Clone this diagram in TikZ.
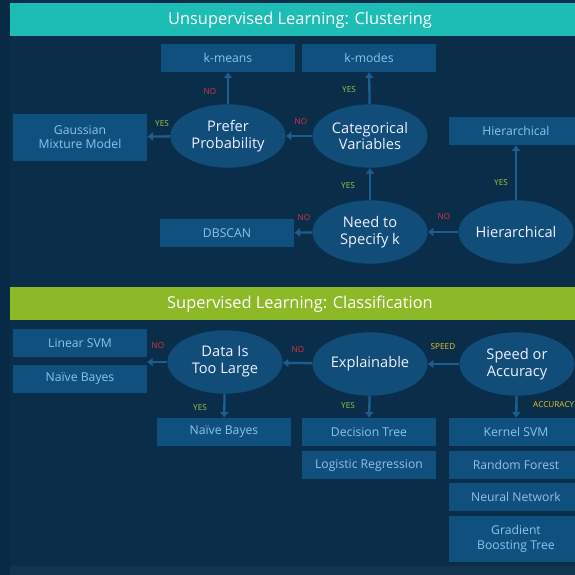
\documentclass[tikz,border=0pt]{standalone}
\usepackage{fontspec}
\setmainfont{Open Sans}
\usepackage{tikz}
\usetikzlibrary{arrows.meta,positioning,shapes.geometric}

\definecolor{bgnavy}{HTML}{0A2E4A}
\definecolor{boxblue}{HTML}{10507E}
\definecolor{ellblue}{HTML}{114D79}
\definecolor{boxtext}{HTML}{8EC4E8}
\definecolor{arrowblue}{HTML}{1B5E92}
\definecolor{tealbar}{HTML}{1DBDB5}
\definecolor{greenbar}{HTML}{8DB928}
\definecolor{noRed}{HTML}{D9363B}
\definecolor{yesGreen}{HTML}{9CCB3C}
\definecolor{pickYellow}{HTML}{E6C12E}

\tikzset{
  resbox/.style={fill=boxblue,minimum width=4.02cm,minimum height=0.84cm,align=center,font=\fontsize{10.4}{12.4}\selectfont,text=boxtext,inner sep=1pt},
  askell/.style={ellipse,fill=ellblue,minimum width=3.45cm,minimum height=1.9cm,align=center,font=\fontsize{12.5}{14.5}\selectfont,text=white!94!blue,inner sep=0pt},
  titlebar/.style={minimum width=16.95cm,minimum height=0.99cm,inner sep=0pt},
  headtext/.style={font=\fontsize{14}{16}\selectfont,text=white},
  ansl/.style={font=\fontsize{7}{8}\selectfont,inner sep=0pt},
  flow/.style={draw=arrowblue,line width=2pt,-{Latex[length=1.7mm,width=2.8mm]}}
}

\begin{document}
\begin{tikzpicture}[x=0.03cm,y=-0.03cm]
\useasboundingbox (0,0) rectangle (575,575);
\clip (0,0) rectangle (575,575);
\fill[bgnavy] (0,0) rectangle (575,575);
\fill[bgnavy!92!black] (0,0) rectangle (10,575);
\fill[bgnavy!97!white] (10,566) rectangle (575,575);

% unsupervised part
\node[titlebar,fill=tealbar] (u_title) at (292.5,19) {};
\node[headtext] (u_head) at (300,20) {Unsupervised Learning: Clustering};

\node[resbox] (u_kmeans) at (228,58) {k-means};
\node[resbox] (u_kmodes) at (369,58) {k-modes};
\node[resbox,minimum height=1.41cm] (u_gmm) at (80,137) {Gaussian\\Mixture Model};
\node[askell] (u_prob) at (228,136) {Prefer\\Probability};
\node[askell] (u_cat) at (370,136) {Categorical\\Variables};
\node[resbox] (u_hierbox) at (516,131) {Hierarchical};
\node[resbox] (u_dbscan) at (227,233) {DBSCAN};
\node[askell] (u_needk) at (370,232) {Need to\\Specify k};
\node[askell] (u_hier) at (516,232) {Hierarchical};

\draw[flow] (u_prob) -- (u_kmeans);
\draw[flow] (u_cat) -- (u_kmodes);
\draw[flow] (u_prob) -- (u_gmm);
\draw[flow] (u_cat) -- (u_prob);
\draw[flow] (u_needk) -- (u_cat);
\draw[flow] (u_hier) -- (u_hierbox);
\draw[flow] (u_hier) -- (u_needk);
\draw[flow] (u_needk) -- (u_dbscan);

\node[ansl,text=noRed] (u_l1) at (210,92) {NO};
\node[ansl,text=yesGreen] (u_l2) at (349,90) {YES};
\node[ansl,text=yesGreen] (u_l3) at (162,124) {YES};
\node[ansl,text=noRed] (u_l4) at (301,122) {NO};
\node[ansl,text=yesGreen] (u_l5) at (348,186) {YES};
\node[ansl,text=yesGreen] (u_l6) at (501,183) {YES};
\node[ansl,text=noRed] (u_l7) at (444,217) {NO};
\node[ansl,text=noRed] (u_l8) at (304,218) {NO};

% supervised part
\node[titlebar,fill=greenbar] (s_title) at (292.5,303) {};
\node[headtext] (s_head) at (300,304) {Supervised Learning: Classification};

\node[resbox] (s_linsvm) at (80,343) {Linear SVM};
\node[resbox] (s_nb1) at (80,379) {Naïve Bayes};
\coordinate (s_gap) at (147,362);
\node[askell] (s_large) at (225,362) {Data Is\\Too Large};
\node[askell] (s_expl) at (370,364) {Explainable};
\node[askell] (s_speed) at (517,364) {Speed or\\Accuracy};
\node[resbox] (s_nb2) at (224,432) {Naïve Bayes};
\node[resbox] (s_dtree) at (369,432) {Decision Tree};
\node[resbox] (s_logreg) at (369,465) {Logistic Regression};
\node[resbox] (s_ksvm) at (516,432) {Kernel SVM};
\node[resbox] (s_rf) at (516,465) {Random Forest};
\node[resbox] (s_nn) at (516,497) {Neural Network};
\node[resbox,minimum height=1.38cm] (s_gbt) at (516,539) {Gradient\\Boosting Tree};

\draw[flow] (s_large.west) -- (s_gap);
\draw[flow] (s_expl) -- (s_large);
\draw[flow] (s_speed) -- (s_expl);
\draw[flow] (s_large) -- (s_nb2);
\draw[flow] (s_expl) -- (s_dtree);
\draw[flow] (s_speed) -- (s_ksvm);

\node[ansl,text=noRed] (s_l1) at (158,346) {NO};
\node[ansl,text=noRed] (s_l2) at (298,350) {NO};
\node[ansl,text=pickYellow] (s_l3) at (443,347) {SPEED};
\node[ansl,text=yesGreen] (s_l4) at (200,408) {YES};
\node[ansl,text=yesGreen] (s_l5) at (348,406) {YES};
\node[ansl,text=pickYellow,anchor=west] (s_l6) at (533,405) {ACCURACY};
\end{tikzpicture}
\end{document}
